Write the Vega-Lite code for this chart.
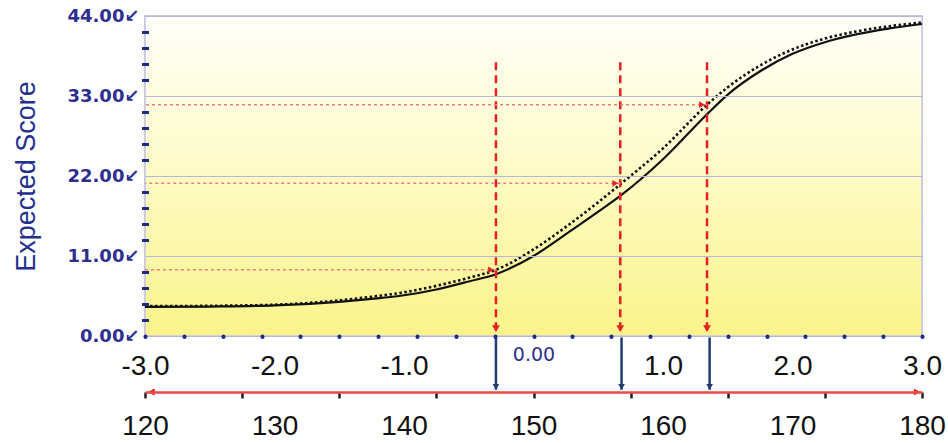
{
  "$schema": "https://vega.github.io/schema/vega-lite/v6.json",
  "width": 777,
  "height": 320,
  "autosize": {"type": "none"},
  "padding": {"left": 145, "top": 16, "right": 26, "bottom": 107},
  "background": "white",
  "config": {"view": {"stroke": null}},
  "datasets": {
    "solid": [
      {"theta": -3.0, "score": 4.0}, {"theta": -2.5, "score": 4.05}, {"theta": -2.0, "score": 4.2},
      {"theta": -1.5, "score": 4.7}, {"theta": -1.25, "score": 5.1}, {"theta": -1.0, "score": 5.6},
      {"theta": -0.75, "score": 6.4}, {"theta": -0.5, "score": 7.5}, {"theta": -0.29, "score": 8.5},
      {"theta": 0.0, "score": 11.0}, {"theta": 0.25, "score": 14.0}, {"theta": 0.5, "score": 17.1},
      {"theta": 0.68, "score": 19.4}, {"theta": 1.0, "score": 24.3}, {"theta": 1.34, "score": 30.5},
      {"theta": 1.5, "score": 33.2}, {"theta": 1.75, "score": 36.4}, {"theta": 2.0, "score": 38.8},
      {"theta": 2.25, "score": 40.4}, {"theta": 2.5, "score": 41.5}, {"theta": 2.75, "score": 42.3},
      {"theta": 3.0, "score": 42.9}
    ],
    "dotted": [
      {"theta": -3.0, "score": 4.1}, {"theta": -2.5, "score": 4.15}, {"theta": -2.0, "score": 4.3},
      {"theta": -1.5, "score": 4.9}, {"theta": -1.25, "score": 5.4}, {"theta": -1.0, "score": 6.0},
      {"theta": -0.75, "score": 6.9}, {"theta": -0.5, "score": 8.0}, {"theta": -0.29, "score": 9.1},
      {"theta": 0.0, "score": 11.9}, {"theta": 0.25, "score": 15.0}, {"theta": 0.5, "score": 18.4},
      {"theta": 0.68, "score": 21.0}, {"theta": 1.0, "score": 25.8}, {"theta": 1.34, "score": 31.8},
      {"theta": 1.5, "score": 34.2}, {"theta": 1.75, "score": 37.2}, {"theta": 2.0, "score": 39.4},
      {"theta": 2.25, "score": 40.9}, {"theta": 2.5, "score": 41.9}, {"theta": 2.75, "score": 42.6},
      {"theta": 3.0, "score": 43.1}
    ],
    "marks": [
      {"theta": -0.29, "score": 9.1},
      {"theta": 0.67, "score": 21.0},
      {"theta": 1.34, "score": 31.8}
    ],
    "arrows": [
      {"theta": -0.29},
      {"theta": 0.68},
      {"theta": 1.36}
    ]
  },
  "resolve": {"axis": {"x": "independent", "y": "independent"}},
  "layer": [
    {
      "data": {"name": "marks"},
      "mark": {
        "type": "rect",
        "fill": {"gradient": "linear", "x1": 0, "y1": 0, "x2": 0, "y2": 1,
          "stops": [{"offset": 0, "color": "#fffffa"}, {"offset": 0.5, "color": "#fdfbc4"}, {"offset": 1, "color": "#faf38a"}]},
        "stroke": "#c6c6e8",
        "strokeWidth": 1.5
      },
      "encoding": {
        "x": {"datum": -3, "type": "quantitative", "scale": {"domain": [-3, 3], "nice": false, "zero": false}, "axis": null},
        "x2": {"datum": 3},
        "y": {"datum": 0, "type": "quantitative", "scale": {"domain": [0, 44], "nice": false, "zero": false}, "axis": null},
        "y2": {"datum": 44}
      }
    },
    {
      "data": {"name": "solid"},
      "mark": {"type": "line", "color": "#111111", "strokeWidth": 2.2, "interpolate": "monotone"},
      "encoding": {
        "x": {"field": "theta", "type": "quantitative", "scale": {"domain": [-3, 3], "nice": false, "zero": false},
          "axis": {
            "orient": "bottom", "values": [-3, -2, -1, 0, 1, 2, 3],
            "labelExpr": "datum.value == 0 ? '0.00' : (datum.value < 0 ? '-' : '') + format(abs(datum.value), '.1f')",
            "domain": false, "ticks": false, "tickSize": 0, "grid": false, "title": null,
            "labelFont": {"condition": {"test": "datum.value == 0", "value": "DejaVu Sans"}, "value": "Liberation Sans"},
            "labelFontSize": {"condition": {"test": "datum.value == 0", "value": 19}, "value": 28},
            "labelColor": {"condition": {"test": "datum.value == 0", "value": "#2e2e8f"}, "value": "#111111"},
            "labelPadding": {"condition": {"test": "datum.value == 0", "value": 9}, "value": 16},
            "labelBaseline": "top", "labelFlush": false, "labelOverlap": false, "labelBound": false, "zindex": 1
          }},
        "y": {"field": "score", "type": "quantitative", "scale": {"domain": [0, 44], "nice": false, "zero": false},
          "axis": {
            "orient": "left", "values": [0, 11, 22, 33, 44],
            "labelExpr": "format(datum.value, '.2f') + '↙'",
            "labelFont": "DejaVu Sans", "labelFontSize": 18, "labelFontWeight": "bold", "labelColor": "#2e2e8f", "labelPadding": 6,
            "ticks": false, "tickSize": 0, "domain": false,
            "grid": true, "gridColor": "#b8b8d6", "gridWidth": 1,
            "title": "Expected Score", "titleFont": "Liberation Sans", "titleFontSize": 27, "titleFontWeight": "normal",
            "titleColor": "#23308f", "titleX": -119, "titleY": 160, "titleAngle": -90, "titleAlign": "center", "titleBaseline": "middle",
            "labelFlush": false, "labelOverlap": false, "zindex": 1
          }}
      }
    },
    {
      "data": {"name": "dotted"},
      "mark": {"type": "line", "color": "#111111", "strokeWidth": 2.6, "strokeDash": [2.5, 2.5], "interpolate": "monotone"},
      "encoding": {
        "x": {"field": "theta", "type": "quantitative", "scale": {"domain": [-3, 3], "nice": false, "zero": false}, "axis": null},
        "y": {"field": "score", "type": "quantitative", "scale": {"domain": [0, 44], "nice": false, "zero": false},
          "axis": {
            "orient": "left",
            "values": [2.2, 4.4, 6.6, 8.8, 13.2, 15.4, 17.6, 19.8, 24.2, 26.4, 28.6, 30.8, 35.2, 37.4, 39.6, 41.8],
            "labels": false, "domain": false, "grid": false, "ticks": true,
            "tickColor": "#1e2a7a", "tickSize": 7, "tickWidth": 3, "offset": -3.5, "title": null, "zindex": 2
          }}
      }
    },
    {
      "data": {"name": "marks"},
      "mark": {"type": "rule", "color": "#e82020", "strokeWidth": 2.5, "strokeDash": [8, 5]},
      "encoding": {
        "x": {"field": "theta", "type": "quantitative", "scale": {"domain": [-3, 3], "nice": false, "zero": false},
          "axis": {
            "orient": "bottom",
            "values": [-3, -2.7, -2.4, -2.1, -1.8, -1.5, -1.2, -0.9, -0.6, -0.3, 0, 0.3, 0.6, 0.9, 1.2, 1.5, 1.8, 2.1, 2.4, 2.7, 3],
            "labels": false, "domain": false, "grid": false, "ticks": true,
            "tickColor": "#1e2a8a", "tickSize": 0.5, "tickWidth": 4, "tickCap": "round", "title": null, "zindex": 2
          }},
        "y": {"datum": 0.8, "type": "quantitative", "scale": {"domain": [0, 44], "nice": false, "zero": false}, "axis": null},
        "y2": {"datum": 38}
      }
    },
    {
      "data": {"name": "marks"},
      "mark": {"type": "point", "shape": "triangle-down", "filled": true, "color": "#e82020", "size": 60, "opacity": 1},
      "encoding": {
        "x": {"field": "theta", "type": "quantitative", "scale": {"domain": [-3, 3], "nice": false, "zero": false}, "axis": null},
        "y": {"datum": 1.0, "type": "quantitative", "scale": {"domain": [0, 44], "nice": false, "zero": false}, "axis": null}
      }
    },
    {
      "data": {"name": "marks"},
      "mark": {"type": "rule", "color": "#f07c7c", "strokeWidth": 1.6, "strokeDash": [3, 3]},
      "encoding": {
        "x": {"field": "theta", "type": "quantitative", "scale": {"domain": [-3, 3], "nice": false, "zero": false}, "axis": null},
        "x2": {"datum": -3},
        "y": {"field": "score", "type": "quantitative", "scale": {"domain": [0, 44], "nice": false, "zero": false}, "axis": null}
      }
    },
    {
      "data": {"name": "marks"},
      "mark": {"type": "point", "shape": "triangle-right", "filled": true, "color": "#e82020", "size": 45, "opacity": 1, "xOffset": -5},
      "encoding": {
        "x": {"field": "theta", "type": "quantitative", "scale": {"domain": [-3, 3], "nice": false, "zero": false},
          "axis": {
            "orient": "bottom", "offset": 56, "values": [-3, -2, -1, 0, 1, 2, 3],
            "labelExpr": "format(150 + 10 * datum.value, 'd')",
            "labelFont": "Liberation Sans", "labelFontSize": 28, "labelColor": "#111111", "labelPadding": 20,
            "labelBaseline": "top", "ticks": false, "tickSize": 0, "domain": false, "grid": false, "title": null,
            "labelFlush": false, "labelOverlap": false, "labelBound": false, "zindex": 1
          }},
        "y": {"field": "score", "type": "quantitative", "scale": {"domain": [0, 44], "nice": false, "zero": false}, "axis": null}
      }
    },
    {
      "data": {"name": "arrows"},
      "mark": {"type": "rule", "color": "#1f3b70", "strokeWidth": 2.5},
      "encoding": {
        "x": {"field": "theta", "type": "quantitative", "scale": {"domain": [-3, 3], "nice": false, "zero": false},
          "axis": {
            "orient": "bottom", "offset": 56,
            "values": [-3, -2.25, -1.5, -0.75, 0, 0.75, 1.5, 2.25, 3],
            "labels": false, "domain": true, "domainColor": "#e84a4a", "domainWidth": 2.5,
            "ticks": true, "tickColor": "#222222", "tickSize": 6, "tickWidth": 2.5, "grid": false, "title": null, "zindex": 1
          }},
        "y": {"datum": -0.2, "type": "quantitative", "scale": {"domain": [0, 44], "nice": false, "zero": false}, "axis": null},
        "y2": {"datum": -7.4}
      }
    },
    {
      "data": {"name": "arrows"},
      "mark": {"type": "point", "shape": "triangle-down", "filled": true, "color": "#1f3b70", "size": 45, "opacity": 1},
      "encoding": {
        "x": {"field": "theta", "type": "quantitative", "scale": {"domain": [-3, 3], "nice": false, "zero": false}, "axis": null},
        "y": {"datum": -7.0, "type": "quantitative", "scale": {"domain": [0, 44], "nice": false, "zero": false}, "axis": null}
      }
    },
    {
      "data": {"name": "arrows"},
      "mark": {"type": "point", "shape": "triangle-left", "filled": true, "color": "#e82020", "size": 45, "opacity": 1},
      "encoding": {
        "x": {"datum": -2.95, "type": "quantitative", "scale": {"domain": [-3, 3], "nice": false, "zero": false}, "axis": null},
        "y": {"datum": -7.7, "type": "quantitative", "scale": {"domain": [0, 44], "nice": false, "zero": false}, "axis": null}
      }
    },
    {
      "data": {"name": "arrows"},
      "mark": {"type": "point", "shape": "triangle-right", "filled": true, "color": "#e82020", "size": 45, "opacity": 1},
      "encoding": {
        "x": {"datum": 2.96, "type": "quantitative", "scale": {"domain": [-3, 3], "nice": false, "zero": false}, "axis": null},
        "y": {"datum": -7.7, "type": "quantitative", "scale": {"domain": [0, 44], "nice": false, "zero": false}, "axis": null}
      }
    }
  ]
}
